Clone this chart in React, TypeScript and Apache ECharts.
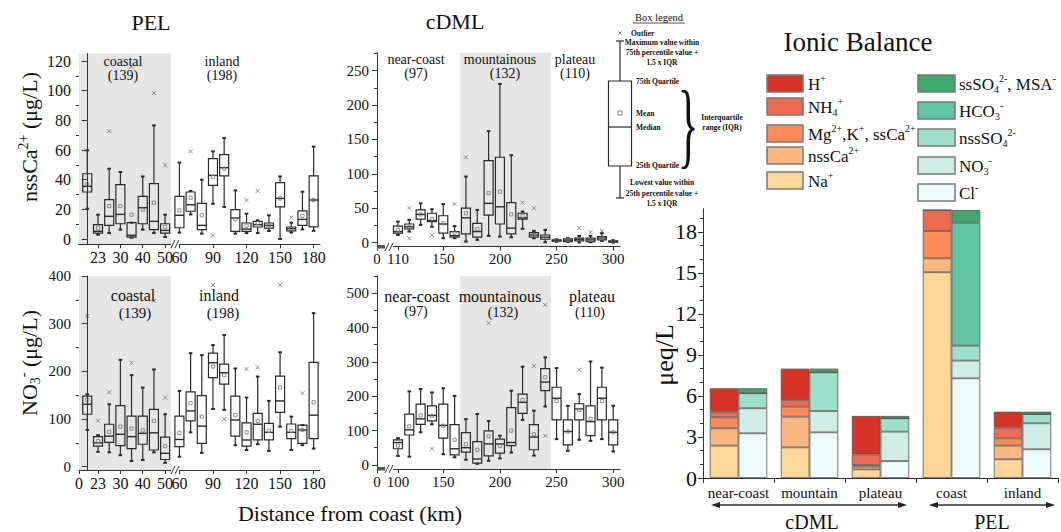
import React, { useEffect, useRef } from 'react';
import * as echarts from 'echarts';

const FONT = 'Liberation Serif, Times New Roman, serif';
const INK = '#2a2a2a';

// ---------------- PEL panels (distance bins, km) ----------------
const pelKm = [10, 23, 26.5, 30, 35, 40, 45, 50, 60, 70, 80, 90, 100, 110, 120, 130, 140, 150, 160, 170, 180];
// each row: [low whisker, Q1, median, Q3, high whisker, mean]
const pelCaStats = [
  [20.4, 31.7, 35.5, 44, 59.8, 36.9],
  [2.9, 4, 5.2, 9.7, 16.4, 7.4],
  [4, 9.2, 15.3, 26.5, 47.4, 22.2],
  [6.3, 10.3, 16.6, 36.6, 45.2, 22.2],
  [0.9, 1.3, 2.5, 11, 11, 16.4],
  [6.3, 10.3, 21.1, 28.8, 42.2, 19.8],
  [4, 6.3, 11.9, 37.3, 76.6, 24.5],
  [1.3, 4, 5.8, 10.3, 16.4, 8.1],
  [4.3, 7.6, 16, 28.8, 51.5, 19.3],
  [16.6, 18.7, 23.1, 31.7, 32.4, 27.9],
  [3.6, 6.3, 9.2, 24, 40, 16],
  [23.8, 36.2, 42.9, 54.2, 59.1, 41.8],
  [21.6, 42.5, 48.1, 56.9, 68.1, 47.4],
  [3.6, 5.2, 14.2, 19.8, 32.8, 13.3],
  [4, 5.2, 6.7, 10.8, 17.1, 9],
  [4, 8.1, 9.7, 11.9, 12.6, 10.8],
  [5.4, 7.4, 9.2, 10.8, 16, 9.2],
  [0, 21.6, 27.4, 38, 42.2, 27.4],
  [4.4, 5.5, 7, 8.1, 11, 7],
  [6.5, 9.2, 13.2, 19, 31.9, 15.5],
  [5.5, 8.2, 26.3, 42.5, 62.3, 26.3],
];
const pelCaOutliers = [[26.5, 72.8], [35, 116], [45, 98.4], [50, 49.7], [70, 59.1], [90, 2.5], [120, 26.1], [130, 32.4], [160, 14.6]];

const pelNo3Stats = [
  [77, 110, 131, 148, 152, 140],
  [31, 43, 50, 63, 66, 54],
  [30, 51, 64, 89, 131, 73],
  [24, 44, 68, 128, 224, 84],
  [12, 38, 63, 106, 192, 80],
  [14, 47, 70, 106, 166, 76],
  [30, 35, 71, 120, 204, 96],
  [8, 15, 28, 62, 110, 43],
  [21, 42, 57, 106, 159, 71],
  [72, 96, 117, 157, 238, 133],
  [29, 49, 85, 149, 234, 105],
  [121, 187, 218, 238, 255, 210],
  [119, 173, 197, 215, 276, 192],
  [45, 64, 98, 148, 206, 108],
  [35, 43, 56, 92, 145, 72],
  [47, 56, 89, 112, 189, 96],
  [33, 56, 72, 91, 138, 75],
  [84, 114, 138, 190, 240, 166],
  [35, 59, 72, 89.5, 105, 75],
  [45, 49, 77, 87, 87, 77],
  [38, 59, 108, 219, 322, 135],
];
const pelNo3Outliers = [[10, 316], [23, 96.5], [26.5, 156], [35, 218], [45, 348], [50, 145], [90, 381], [100, 100], [120, 205], [130, 208], [150, 381], [170, 154]];

const pelCaTickKm = [23, 30, 40, 50, 60, 90, 120, 150, 180];
const pelNo3TickKm = [0, 23, 30, 40, 50, 60, 90, 120, 150, 180];
const pelCoastalZone = [0, 54];

// ---------------- cDML panels ----------------
const cdmlKm = [110, 120, 130, 140, 150, 160, 170, 180, 190, 200, 210, 220, 230, 240, 250, 260, 270, 280, 290, 300];
const cdmlCaStats = [
  [11, 13.6, 16, 24, 30.5, 18.4],
  [16, 20, 23, 27, 33, 23],
  [25.7, 34, 41, 47.5, 57, 41],
  [23, 30.5, 32, 42.6, 48.4, 34],
  [6.3, 13.6, 27, 39, 56, 28],
  [6.3, 7.8, 10, 16, 24, 14.5],
  [1.5, 12.6, 36, 50, 96, 42.6],
  [3.9, 7.8, 16, 28, 47.5, 19.4],
  [9.7, 40, 57, 119, 162, 72],
  [8.7, 27, 52, 124, 230.6, 74],
  [7.8, 12.6, 21, 58, 127, 41],
  [20, 34, 36, 42.6, 45, 39],
  [6.3, 7.8, 11, 14.5, 17, 11],
  [0.5, 4.8, 7.8, 11, 18.4, 8.7],
  [1, 2, 3, 4, 5, 3],
  [1, 1.5, 3.5, 5.4, 6.5, 3.5],
  [0.3, 2.5, 4.4, 6.4, 9.7, 4.7],
  [0.5, 1.5, 3.9, 6.4, 9.7, 4],
  [2.5, 3.9, 6.7, 8.7, 13.6, 6.7],
  [0, 0.5, 1.5, 2.5, 3.5, 1.5],
];
const cdmlCaOutliers = [[120, 50], [120, 6.3], [140, 11], [160, 56], [170, 124], [220, 58], [230, 50], [270, 21], [280, 15], [290, 17]];

const cdmlNo3Stats = [
  [26, 47, 65, 73, 78, 56],
  [24, 87, 102, 148, 214, 112],
  [95, 118, 134, 177, 221, 144],
  [118, 128, 144, 172, 211, 143],
  [31, 78, 115, 177, 223, 114],
  [22, 29, 47, 117, 201, 73],
  [15, 37, 50, 94, 133, 60],
  [3, 5, 17, 68, 148, 44],
  [12, 26, 61, 99, 128, 83],
  [19, 34, 61, 75, 85, 55],
  [36, 56, 65, 167, 216, 100],
  [131, 150, 182, 206, 286, 189],
  [27, 44, 81, 117, 158, 89],
  [170, 216, 241, 280, 313, 255],
  [75, 131, 194, 226, 282, 186],
  [41, 58, 97, 131, 172, 97],
  [73, 131, 163, 178, 206, 160],
  [70, 85, 126, 172, 301, 134],
  [75, 131, 194, 226, 283, 186],
  [39, 58, 95, 131, 172, 95],
];
const cdmlNo3Outliers = [[140, 47], [190, 413], [230, 288], [240, 466], [240, 85], [270, 277]];

const cdmlAxisStart = 91.5;
const cdmlTickKm = [91.5, 110, 150, 200, 250, 300];
const cdmlCaTickLabels = ['0', '110', '150', '200', '250', '300'];
const cdmlNo3TickLabels = ['0', '100', '150', '200', '250', '300'];
const cdmlMountainZone = [165, 245];

// ---------------- Ionic balance (µeq/L) ----------------
const ionCategories = ['near-coast', 'mountain', 'plateau', 'coast', 'inland'];
const ionNa = [2.37, 2.24, 0.63, 15.05, 1.37];
const ionNssCa = [1.26, 2.25, 0.2, 1.02, 1.0];
const ionMgKssCa = [0.81, 0.73, 0.12, 2.0, 0.53];
const ionNH4 = [0.41, 0.49, 0.78, 1.53, 0.78];
const ionH = [1.71, 2.29, 2.81, 0, 1.17];
const ionCl = [3.27, 3.34, 1.24, 7.29, 2.1];
const ionNO3 = [1.83, 1.56, 2.15, 1.3, 1.9];
const ionNssSO4 = [1.1, 2.83, 0.98, 1.09, 0.68];
const ionHCO3 = [0, 0, 0, 9.0, 0];
const ionSsSO4MSA = [0.36, 0.27, 0.17, 0.92, 0.17];
const ionTicks = [0, 3, 6, 9, 12, 15, 18];
const ionMinorTicks = [1, 2, 4, 5, 7, 8, 10, 11, 13, 14, 16, 17, 19];

// ---------------- helpers ----------------
const pelBreaks = [[0, -0.7], [23, 1], [30, 3], [50, 7], [60, 8.28], [180, 20.28]];
function pelScale(km: number) {
  for (let i = 1; i < pelBreaks.length; i++) {
    const [k0, p0] = pelBreaks[i - 1];
    const [k1, p1] = pelBreaks[i];
    if (km <= k1 || i === pelBreaks.length - 1) return p0 + ((km - k0) * (p1 - p0)) / (k1 - k0);
  }
  return 0;
}

function boxRender(width: number) {
  return (params: any, api: any) => {
    const x = api.value(0);
    const pt = (v: number) => api.coord([x, v]);
    const [cx, yLow] = pt(api.value(1));
    const yQ1 = pt(api.value(2))[1];
    const yMed = pt(api.value(3))[1];
    const yQ3 = pt(api.value(4))[1];
    const yHigh = pt(api.value(5))[1];
    const yMean = pt(api.value(6))[1];
    const h = width / 2;
    const ln = { stroke: INK, lineWidth: 1.2 };
    return {
      type: 'group',
      children: [
        { type: 'line', shape: { x1: cx, y1: yQ3, x2: cx, y2: yHigh }, style: ln },
        { type: 'line', shape: { x1: cx, y1: yQ1, x2: cx, y2: yLow }, style: ln },
        { type: 'line', shape: { x1: cx - 1.8, y1: yHigh, x2: cx + 1.8, y2: yHigh }, style: { stroke: INK, lineWidth: 2 } },
        { type: 'line', shape: { x1: cx - 1.8, y1: yLow, x2: cx + 1.8, y2: yLow }, style: { stroke: INK, lineWidth: 2 } },
        { type: 'rect', shape: { x: cx - h, y: yQ3, width, height: Math.max(yQ1 - yQ3, 0.6) }, style: { fill: 'none', stroke: INK, lineWidth: 1.2 } },
        { type: 'line', shape: { x1: cx - h, y1: yMed, x2: cx + h, y2: yMed }, style: { stroke: INK, lineWidth: 1.4 } },
        { type: 'rect', shape: { x: cx - 1.6, y: yMean - 1.6, width: 3.2, height: 3.2 }, style: { fill: 'none', stroke: '#777', lineWidth: 0.8 } },
      ],
    };
  };
}

function boxSeries(idx: number, yIdx: number, pos: number[], stats: number[][], width: number) {
  return {
    type: 'custom',
    xAxisIndex: idx,
    yAxisIndex: yIdx,
    data: stats.map((s, i) => [pos[i], ...s]),
    encode: { x: 0, y: [1, 2, 3, 4, 5, 6] },
    renderItem: boxRender(width),
    z: 3,
    silent: true,
    clip: false,
  };
}

function outlierSeries(idx: number, yIdx: number, data: number[][], zone: number[] | null) {
  const s: any = {
    type: 'scatter',
    xAxisIndex: idx,
    yAxisIndex: yIdx,
    data,
    symbol: 'path://M0,0L10,10M10,0L0,10',
    symbolSize: 4,
    itemStyle: { color: '#777', borderColor: '#666', borderWidth: 0.9 },
    z: 2,
    silent: true,
  };
  if (zone) {
    s.markArea = {
      silent: true,
      z: 1,
      itemStyle: { color: '#e6e6e6' },
      data: [[{ xAxis: zone[0] }, { xAxis: zone[1] }]],
    };
  }
  return s;
}

function yMain(grid: number, min: number, max: number, ticks: number[], fs: number, margin = 8) {
  return {
    type: 'value', gridIndex: grid, min, max, position: 'left', z: 6,
    axisLine: { show: true, lineStyle: { color: '#333', width: 1 } },
    splitLine: { show: false },
    axisTick: { show: true, length: 5, customValues: ticks, lineStyle: { color: '#333' } },
    axisLabel: { show: true, customValues: ticks, fontFamily: FONT, fontSize: fs, color: '#111', margin },
  };
}
function yMinor(grid: number, min: number, max: number, ticks: number[]) {
  return {
    type: 'value', gridIndex: grid, min, max, position: 'left', z: 6,
    axisLine: { show: false }, splitLine: { show: false },
    axisTick: { show: true, length: 3, customValues: ticks, lineStyle: { color: '#333' } },
    axisLabel: { show: false },
  };
}
function xValue(grid: number, min: number, max: number, tickPos: number[], labels: string[], fs: number) {
  return {
    type: 'value', gridIndex: grid, min, max, z: 6,
    axisLine: { show: true, onZero: false, lineStyle: { color: '#333', width: 1 } },
    splitLine: { show: false },
    axisTick: { show: true, length: 4, customValues: tickPos, lineStyle: { color: '#333' } },
    axisLabel: {
      show: true, customValues: tickPos, fontFamily: FONT, fontSize: fs, color: '#111', margin: 5, hideOverlap: false,
      showMinLabel: true, showMaxLabel: true,
      formatter: (v: number) => {
        for (let i = 0; i < tickPos.length; i++) if (Math.abs(tickPos[i] - v) < 0.01) return labels[i];
        return '';
      },
    },
  };
}

const range = (a: number, b: number, s: number) => { const r: number[] = []; for (let v = a; v <= b + 1e-9; v += s) r.push(v); return r; };

const T = (x: number, y: number, text: string, fs: number, extra: any = {}, el: any = {}) => ({
  type: 'text', x, y, z: 100, silent: true, ...el,
  style: { text, fontSize: fs, fontFamily: FONT, fill: '#111', align: 'center', verticalAlign: 'middle', ...extra },
});

const richFor = (fs: number, ratio = 0.62) => ({
  sup: { fontSize: Math.round(fs * ratio), fontFamily: FONT, fill: '#111', verticalAlign: 'top', lineHeight: Math.round(fs * 0.65) },
  sub: { fontSize: Math.round(fs * ratio), fontFamily: FONT, fill: '#111', verticalAlign: 'bottom', lineHeight: Math.round(fs * 0.65) },
});

function arrow(x1: number, x2: number, y: number) {
  return [
    { type: 'line', z: 100, silent: true, shape: { x1: x1 + 5, y1: y, x2: x2 - 5, y2: y }, style: { stroke: '#333', lineWidth: 1.3 } },
    { type: 'polygon', z: 100, silent: true, shape: { points: [[x1, y], [x1 + 9, y - 3], [x1 + 9, y + 3]] }, style: { fill: '#222' } },
    { type: 'polygon', z: 100, silent: true, shape: { points: [[x2, y], [x2 - 9, y - 3], [x2 - 9, y + 3]] }, style: { fill: '#222' } },
  ];
}

const ionLegendLeft = [
  { name: 'H+', color: '#d73226', label: 'H{sup|+}' },
  { name: 'NH4+', color: '#ef6a53', label: 'NH{sub|4}{sup|+}' },
  { name: 'Mg2+,K+, ssCa2+', color: '#fd8c5a', label: 'Mg{sup|2+},K{sup|+}, ssCa{sup|2+}' },
  { name: 'nssCa2+', color: '#fdb780', label: 'nssCa{sup|2+}' },
  { name: 'Na+', color: '#fed699', label: 'Na{sup|+}' },
];
const ionLegendRight = [
  { name: 'ssSO42-, MSA-', color: '#3ea96b', label: 'ssSO{sub|4}{sup|2-}, MSA{sup|-}' },
  { name: 'HCO3-', color: '#60c5a3', label: 'HCO{sub|3}{sup|-}' },
  { name: 'nssSO42-', color: '#9edfcb', label: 'nssSO{sub|4}{sup|2-}' },
  { name: 'NO3-', color: '#ceeee5', label: 'NO{sub|3}{sup|-}' },
  { name: 'Cl-', color: '#eefdfc', label: 'Cl{sup|-}' },
];

export default function App() {
  const ref = useRef<HTMLDivElement>(null);
  useEffect(() => {
    if (!ref.current) return;
    const chart = echarts.init(ref.current, undefined, { renderer: 'svg' });

    const pelPos = pelKm.map(pelScale);
    const pelCaTickPos = pelCaTickKm.map(pelScale);
    const pelNo3TickPos = pelNo3TickKm.map(pelScale);
    const pelZone = pelCoastalZone.map(pelScale);
    const pelMin = pelScale(0);
    const pelMax = 20.85;
    const cMax = 306;

    const colorOf: Record<string, string> = {};
    [...ionLegendLeft, ...ionLegendRight].forEach((d) => { colorOf[d.name] = d.color; });
    const barStyle = (name: string) => ({ color: colorOf[name], borderColor: '#555', borderWidth: 0.8 });
    const cation: [string, number[]][] = [['Na+', ionNa], ['nssCa2+', ionNssCa], ['Mg2+,K+, ssCa2+', ionMgKssCa], ['NH4+', ionNH4], ['H+', ionH]];
    const anion: [string, number[]][] = [['Cl-', ionCl], ['NO3-', ionNO3], ['nssSO42-', ionNssSO4], ['HCO3-', ionHCO3], ['ssSO42-, MSA-', ionSsSO4MSA]];
    const barSeries = [
      ...cation.map(([n, d]) => ({ type: 'bar', name: n, stack: 'cation', data: d, xAxisIndex: 4, yAxisIndex: 8, barWidth: 28.7, barGap: '0%', itemStyle: barStyle(n), silent: true })),
      ...anion.map(([n, d]) => ({ type: 'bar', name: n, stack: 'anion', data: d, xAxisIndex: 4, yAxisIndex: 8, barWidth: 28.7, barGap: '0%', itemStyle: barStyle(n), silent: true })),
    ];

    const G = (o: any) => ({ z: 100, silent: true, ...o });
    const graphics: any[] = [];
    // titles
    graphics.push(T(151, 22, 'PEL', 22));
    graphics.push(T(455, 21, 'cDML', 22));
    graphics.push(T(858, 42, 'Ionic Balance', 27));
    // axis titles
    graphics.push(T(29, 137, 'nssCa{sup|2+} (μg/L)', 22, { lineHeight: 26, rich: richFor(22) }, { rotation: Math.PI / 2 }));
    graphics.push(T(29, 363, 'NO{sub|3}{sup|-} (μg/L)', 22, { lineHeight: 26, rich: richFor(22) }, { rotation: Math.PI / 2 }));
    graphics.push(T(350, 513, 'Distance from coast (km)', 22));
    graphics.push(T(664, 355, 'μeq/L', 26, {}, { rotation: Math.PI / 2 }));
    // region annotations
    graphics.push(T(123, 61, 'coastal', 14), T(123, 75, '(139)', 14), T(222, 61, 'inland', 14), T(222, 75, '(198)', 14));
    graphics.push(T(416, 59, 'near-coast', 14), T(416, 73, '(97)', 14), T(500, 59, 'mountainous', 14), T(505, 73, '(132)', 14), T(575, 59, 'plateau', 14), T(575, 73, '(110)', 14));
    graphics.push(T(133, 295, 'coastal', 16), T(135, 313, '(139)', 15), T(219, 295, 'inland', 16), T(223, 313, '(198)', 15));
    graphics.push(T(417, 296, 'near-coast', 16), T(416, 311, '(97)', 14), T(500, 296, 'mountainous', 16), T(503, 312, '(132)', 14), T(592, 296, 'plateau', 16), T(590, 312, '(110)', 14));
    // axis breaks
    const brk = (x: number, y: number) => [
      G({ type: 'rect', shape: { x: x - 1, y: y - 3, width: 8, height: 6 }, style: { fill: '#fff' } }),
      G({ type: 'line', shape: { x1: x - 1, y1: y + 4, x2: x + 3, y2: y - 4 }, style: { stroke: '#333', lineWidth: 1 } }),
      G({ type: 'line', shape: { x1: x + 3, y1: y + 4, x2: x + 7, y2: y - 4 }, style: { stroke: '#333', lineWidth: 1 } }),
    ];
    graphics.push(...brk(172, 244), ...brk(172, 470), ...brk(386, 247), ...brk(386, 469));
    graphics.push(
      G({ type: 'rect', shape: { x: 377, y: 245, width: 8, height: 3.5 }, style: { fill: '#555' } }),
      G({ type: 'rect', shape: { x: 377, y: 467, width: 8, height: 3.5 }, style: { fill: '#555' } }),
    );
    // box legend
    const bold = { fontWeight: 'bold', fontSize: 7.5 };
    graphics.push(T(659, 17, 'Box legend', 10.5));
    graphics.push(G({ type: 'line', shape: { x1: 633, y1: 23, x2: 685, y2: 23 }, style: { stroke: '#222', lineWidth: 0.8 } }));
    graphics.push(
      G({ type: 'line', shape: { x1: 618.5, y1: 31.5, x2: 621.5, y2: 34.5 }, style: { stroke: '#555', lineWidth: 0.8 } }),
      G({ type: 'line', shape: { x1: 621.5, y1: 31.5, x2: 618.5, y2: 34.5 }, style: { stroke: '#555', lineWidth: 0.8 } }),
    );
    graphics.push(T(631, 33, 'Outlier', 7.5, { ...bold, align: 'left' }));
    graphics.push(G({ type: 'line', shape: { x1: 620, y1: 41, x2: 620, y2: 81 }, style: { stroke: INK, lineWidth: 1.2 } }));
    graphics.push(G({ type: 'line', shape: { x1: 616, y1: 41, x2: 624, y2: 41 }, style: { stroke: INK, lineWidth: 1.2 } }));
    graphics.push(T(662, 42, 'Maximum value within', 7.5, bold), T(662, 52, '75th percentile value +', 7.5, bold), T(662, 62, '1.5 x IQR', 7.5, bold));
    graphics.push(G({ type: 'rect', shape: { x: 608.5, y: 81, width: 23, height: 85 }, style: { fill: '#fff', stroke: INK, lineWidth: 1.2 } }));
    graphics.push(G({ type: 'rect', shape: { x: 618, y: 111, width: 4, height: 4 }, style: { fill: 'none', stroke: '#666', lineWidth: 0.8 } }));
    graphics.push(G({ type: 'line', shape: { x1: 608.5, y1: 127, x2: 631.5, y2: 127 }, style: { stroke: INK, lineWidth: 1.2 } }));
    graphics.push(G({ type: 'line', shape: { x1: 620, y1: 166, x2: 620, y2: 198 }, style: { stroke: INK, lineWidth: 1.2 } }));
    graphics.push(G({ type: 'line', shape: { x1: 616, y1: 198, x2: 624, y2: 198 }, style: { stroke: INK, lineWidth: 1.2 } }));
    graphics.push(T(636, 81, '75th Quartile', 7.5, { ...bold, align: 'left' }));
    graphics.push(T(636, 113, 'Mean', 7.5, { ...bold, align: 'left' }));
    graphics.push(T(636, 127, 'Median', 7.5, { ...bold, align: 'left' }));
    graphics.push(T(636, 165, '25th Quartile', 7.5, { ...bold, align: 'left' }));
    graphics.push(T(662, 182, 'Lowest value within', 7.5, bold), T(662, 193, '25th percentile value +', 7.5, bold), T(662, 203, '1.5 x IQR', 7.5, bold));
    graphics.push(T(688, 124, '}', 96, { fill: '#111' }, { scaleX: 0.45 }));
    graphics.push(T(722, 117, 'Interquartile', 7.5, bold), T(722, 127, 'range (IQR)', 7.5, bold));
    // ionic legend
    const lTops = [75, 98, 125, 147, 172];
    const rTops = [75, 102, 129, 157, 184];
    ionLegendLeft.forEach((d, i) => {
      graphics.push(G({ type: 'rect', shape: { x: 767, y: lTops[i], width: 36, height: 17 }, style: { fill: d.color, stroke: '#7a7a7a', lineWidth: 1.5 } }));
      graphics.push(T(808, lTops[i] + 9, d.label, 17, { align: 'left', lineHeight: 21, rich: richFor(17, 0.56) }));
    });
    ionLegendRight.forEach((d, i) => {
      graphics.push(G({ type: 'rect', shape: { x: 918, y: rTops[i], width: 37, height: 17 }, style: { fill: d.color, stroke: '#7a7a7a', lineWidth: 1.5 } }));
      graphics.push(T(959, rTops[i] + 9, d.label, 17, { align: 'left', lineHeight: 21, rich: richFor(17, 0.56) }));
    });
    // group arrows
    graphics.push(...arrow(711, 907, 505), ...arrow(929, 1055, 505));
    graphics.push(T(812, 522, 'cDML', 20), T(992, 522, 'PEL', 20));

    const option: any = {
      animation: false,
      backgroundColor: '#fff',
      textStyle: { fontFamily: FONT },
      grid: [
        { left: 79, top: 53.6, width: 241, height: 190.6 },
        { left: 377, top: 52.7, width: 243, height: 194 },
        { left: 79, top: 276, width: 241, height: 194 },
        { left: 377, top: 276, width: 243, height: 193 },
        { left: 703, top: 208.7, width: 355, height: 269.3 },
      ],
      xAxis: [
        xValue(0, pelMin, pelMax, pelCaTickPos, pelCaTickKm.map(String), 16),
        xValue(1, cdmlAxisStart, cMax, cdmlTickKm, cdmlCaTickLabels, 15),
        xValue(2, pelMin, pelMax, pelNo3TickPos, pelNo3TickKm.map(String), 16),
        xValue(3, cdmlAxisStart, cMax, cdmlTickKm, cdmlNo3TickLabels, 15),
        {
          type: 'category', gridIndex: 4, data: ionCategories, z: 6,
          axisLine: { show: true, lineStyle: { color: '#333' } },
          axisTick: { show: true, length: 5, lineStyle: { color: '#333' } },
          axisLabel: { fontFamily: FONT, fontSize: 15, color: '#111', margin: 7, interval: 0 },
        },
      ],
      yAxis: [
        yMain(0, -3.5, 125, range(0, 120, 20), 16),
        yMinor(0, -3.5, 125, range(10, 110, 20)),
        yMain(1, -6, 276, range(0, 250, 50), 15),
        yMinor(1, -6, 276, range(25, 275, 50)),
        yMain(2, -7, 400, range(0, 400, 100), 15),
        yMinor(2, -7, 400, range(50, 350, 100)),
        yMain(3, -12, 550, range(0, 500, 100), 15),
        yMinor(3, -12, 550, range(50, 550, 100)),
        yMain(4, 0, 19.7, ionTicks, 22, 6),
        yMinor(4, 0, 19.7, ionMinorTicks),
      ],
      series: [
        outlierSeries(0, 0, pelCaOutliers.map(([k, v]) => [pelScale(k), v]), pelZone),
        boxSeries(0, 0, pelPos, pelCaStats, 9),
        outlierSeries(1, 2, cdmlCaOutliers, cdmlMountainZone),
        boxSeries(1, 2, cdmlKm, cdmlCaStats, 9),
        outlierSeries(2, 4, pelNo3Outliers.map(([k, v]) => [pelScale(k), v]), pelZone),
        boxSeries(2, 4, pelPos, pelNo3Stats, 9),
        outlierSeries(3, 6, cdmlNo3Outliers, cdmlMountainZone),
        boxSeries(3, 6, cdmlKm, cdmlNo3Stats, 9),
        ...barSeries,
      ],
      graphic: graphics,
    };
    chart.setOption(option);
    return () => chart.dispose();
  }, []);
  return <div ref={ref} style={{ position: 'fixed', left: 0, top: 0, width: 1061, height: 532, background: '#fff' }} />;
}
